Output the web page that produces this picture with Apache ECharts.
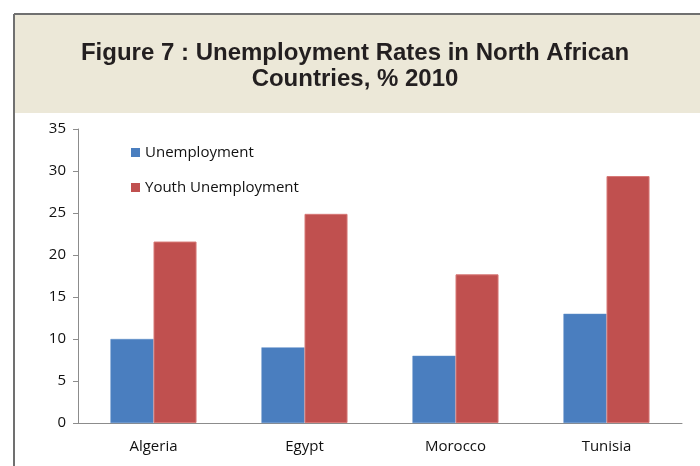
<!DOCTYPE html>
<html>
<head>
<meta charset="utf-8">
<script src="https://cdn.jsdelivr.net/npm/echarts@6/dist/echarts.min.js"></script>
<style>
  html, body { margin: 0; padding: 0; background: #fff; }
  #main { width: 700px; height: 466px; }
</style>
</head>
<body>
<div id="main"></div>
<script>
var countries = ['Algeria', 'Egypt', 'Morocco', 'Tunisia'];
var unemployment = [10, 9, 8, 13];
var youthUnemployment = [21.6, 24.9, 17.7, 29.4];
var yTicks = { min: 0, max: 35, step: 5 };

var myChart = echarts.init(document.getElementById('main'));

var option = {
    animation: false,
    backgroundColor: '#fff',
    graphic: [
        // title panel
        {
            type: 'rect',
            shape: { x: 15, y: 15, width: 700, height: 98 },
            style: { fill: '#ece8d8' },
            z: -10
        },
        {
            type: 'line',
            shape: { x1: 14, y1: 14, x2: 700, y2: 14 },
            style: { stroke: '#707070', lineWidth: 2 }
        },
        {
            type: 'line',
            shape: { x1: 14, y1: 14, x2: 14, y2: 466 },
            style: { stroke: '#707070', lineWidth: 2 }
        }
    ],
    title: {
        text: 'Figure 7 : Unemployment Rates in North African\nCountries, % 2010',
        left: 350,
        top: 35,
        textAlign: 'center',
        textStyle: {
            fontFamily: 'Liberation Sans',
            fontWeight: 'bold',
            fontSize: 24,
            lineHeight: 26,
            color: '#231f20'
        }
    },
    legend: {
        orient: 'vertical',
        left: 126,
        top: 140,
        itemWidth: 9,
        itemHeight: 9,
        itemGap: 20,
        icon: 'rect',
        itemStyle: { borderWidth: 0 },
        textStyle: { fontFamily: 'Open Sans', fontSize: 15, color: '#111' },
        data: ['Unemployment', 'Youth Unemployment']
    },
    grid: { left: 78, right: 18, top: 129, bottom: 43 },
    xAxis: {
        type: 'category',
        data: countries,
        axisLine: { lineStyle: { color: '#8c8c8c', width: 1 } },
        axisTick: { length: 5, lineStyle: { color: '#8c8c8c' } },
        axisLabel: { margin: 16, fontFamily: 'Open Sans', fontSize: 15, color: '#111' }
    },
    yAxis: {
        type: 'value',
        min: yTicks.min,
        max: yTicks.max,
        interval: yTicks.step,
        splitLine: { show: false },
        axisLine: { show: true, lineStyle: { color: '#8c8c8c', width: 1 } },
        axisTick: { show: true, length: 5, lineStyle: { color: '#8c8c8c' } },
        axisLabel: { margin: 12, fontFamily: 'Open Sans', fontSize: 15, color: '#111' }
    },
    series: [
        {
            name: 'Unemployment',
            type: 'bar',
            data: unemployment,
            barGap: '0%',
            barCategoryGap: '43%',
            itemStyle: { color: '#4a7ebf', borderColor: '#5b8bc6', borderWidth: 0.5 }
        },
        {
            name: 'Youth Unemployment',
            type: 'bar',
            data: youthUnemployment,
            barGap: '0%',
            barCategoryGap: '43%',
            itemStyle: { color: '#c0504f', borderColor: '#d77876', borderWidth: 1 }
        }
    ]
};

myChart.setOption(option);
</script>
</body>
</html>
